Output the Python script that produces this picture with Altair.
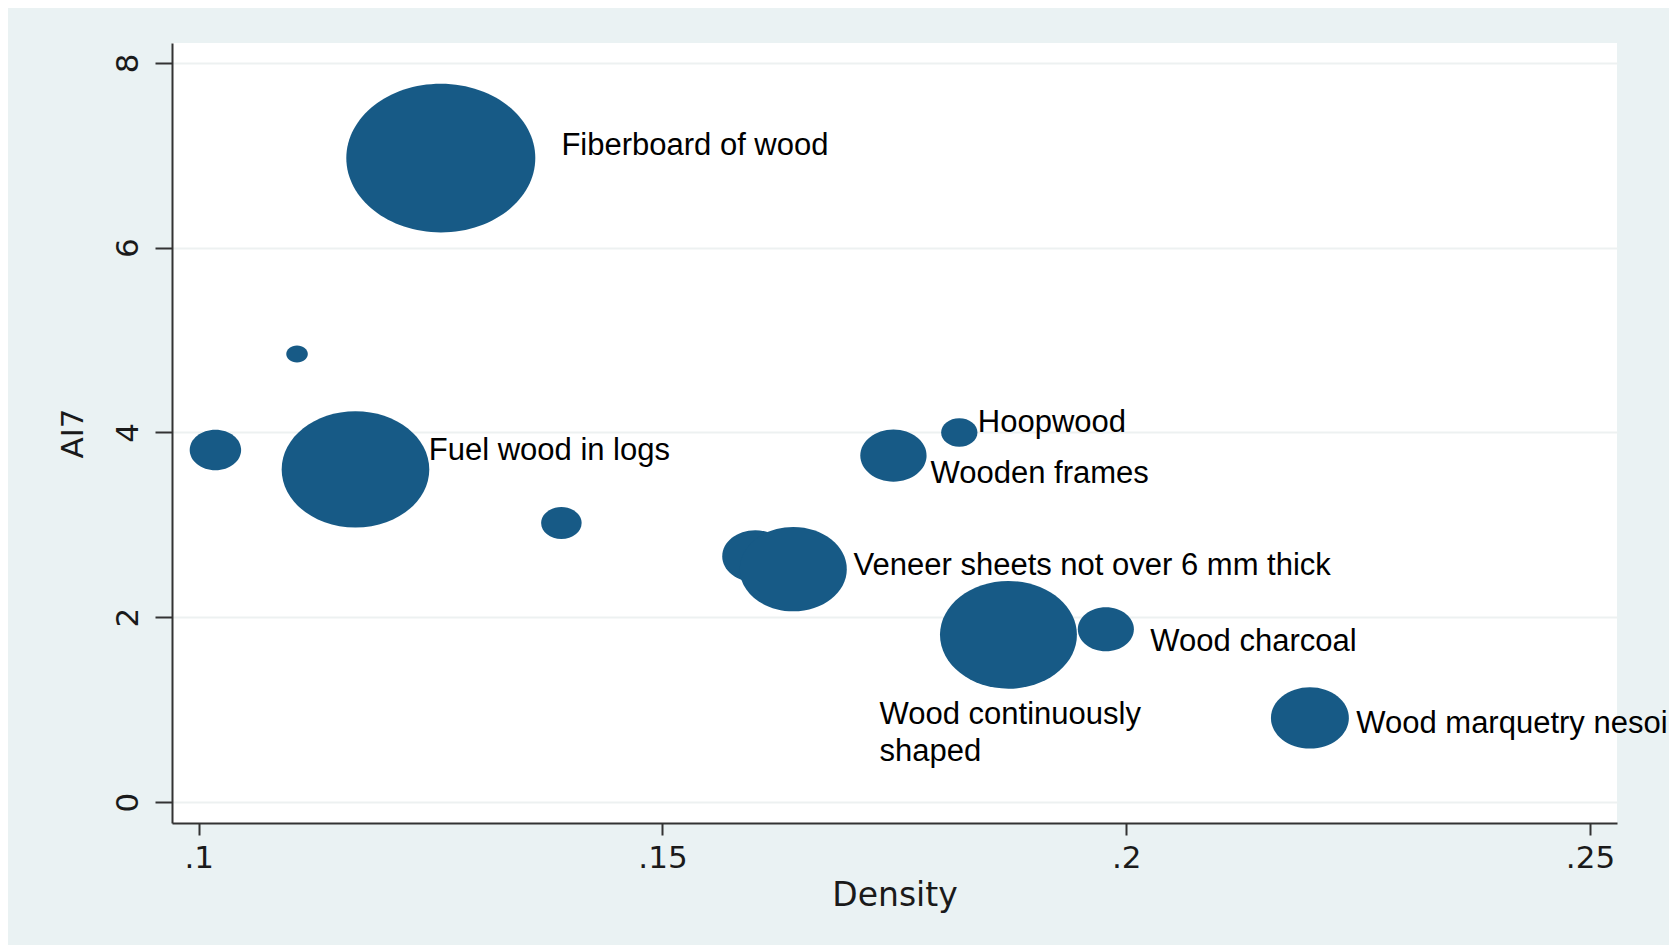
import altair as alt
import pandas as pd

# ---- bubble data ----
bubble_id = ["Fiberboard of wood", "b2", "b3", "Fuel wood in logs", "b5",
             "b6a", "Veneer sheets not over 6 mm thick", "Wooden frames",
             "Hoopwood", "Wood continuously shaped", "Wood charcoal",
             "Wood marquetry nesoi"]
density = [0.1261, 0.1106, 0.1018, 0.1169, 0.1391,
           0.1600, 0.1641, 0.1749, 0.1820, 0.1873, 0.1978, 0.2198]
ai7 = [6.97, 4.85, 3.81, 3.60, 3.02,
       2.66, 2.52, 3.75, 4.00, 1.81, 1.87, 0.91]
weight = [100.0, 1.3, 7.4, 61.0, 4.6,
          12.2, 32.1, 12.3, 3.7, 52.5, 8.8, 17.0]

# ---- bubble labels (text and anchor in data units) ----
label_text = ["Fiberboard of wood", "Fuel wood in logs", "Hoopwood",
              "Wooden frames", "Veneer sheets not over 6 mm thick",
              "Wood charcoal", "Wood continuously", "shaped",
              "Wood marquetry nesoi"]
label_x = [0.1391, 0.1248, 0.1840, 0.1789, 0.1706, 0.2026, 0.1734, 0.1734, 0.2248]
label_y = [7.00, 3.70, 4.01, 3.455, 2.46, 1.636, 0.85, 0.445, 0.746]

# ---- axes ----
x_ticks = [0.1, 0.15, 0.2, 0.25]
x_tick_labels = [".1", ".15", ".2", ".25"]
y_ticks = [0, 2, 4, 6, 8]
x_domain = [0.09712, 0.25291]
y_domain = [-0.227, 8.216]

bubbles = pd.DataFrame({"id": bubble_id, "Density": density, "AI7": ai7, "weight": weight})
labels = pd.DataFrame({"text": label_text, "lx": label_x, "ly": label_y})

label_expr = " : ".join(
    f"abs(datum.value - {v}) < 1e-6 ? '{t}'" for v, t in zip(x_ticks, x_tick_labels)
) + " : ''"

# ellipse-shaped symbol (Stata graph was stretched horizontally)
r = 0.787
k = 0.5523
ellipse = (f"M1,0C1,{k*r:.4f},{k:.4f},{r},0,{r}C{-k:.4f},{r},-1,{k*r:.4f},-1,0"
           f"C-1,{-k*r:.4f},{-k:.4f},{-r},0,{-r}C{k:.4f},{-r},1,{-k*r:.4f},1,0Z")

x_enc = alt.X("Density:Q",
              scale=alt.Scale(domain=x_domain, nice=False, zero=False),
              axis=alt.Axis(values=x_ticks, labelExpr=label_expr, title="Density",
                            grid=False, tickSize=12, labelPadding=8,
                            labelBaseline="top", labelAlign="center",
                            labelFont="DejaVu Sans", labelFontSize=31,
                            labelColor="#1a1a1a",
                            titleFont="DejaVu Sans", titleFontSize=33,
                            titleFontWeight="normal", titleColor="#1a1a1a",
                            titleBaseline="alphabetic", titleAlign="center",
                            titleX=722.5, titleY=82,
                            domainColor="#333333", domainWidth=2,
                            tickColor="#333333", tickWidth=2))
y_enc = alt.Y("AI7:Q",
              scale=alt.Scale(domain=y_domain, nice=False, zero=False),
              axis=alt.Axis(values=y_ticks, format="d", title="AI7",
                            grid=True, gridColor="#edf1f1", gridWidth=2,
                            tickSize=17, labelPadding=18, labelAngle=270,
                            labelAlign="center", labelBaseline="alphabetic",
                            labelFont="DejaVu Sans", labelFontSize=31,
                            labelColor="#1a1a1a",
                            titleFont="DejaVu Sans", titleFontSize=31,
                            titleFontWeight="normal", titleColor="#1a1a1a",
                            titleAngle=270, titleBaseline="alphabetic",
                            titleAlign="center", titleX=-90, titleY=390,
                            domainColor="#333333", domainWidth=2,
                            tickColor="#333333", tickWidth=2))

points = alt.Chart(bubbles).mark_point(
    shape=ellipse, filled=True, opacity=1, color="#175a86", strokeWidth=0
).encode(
    x=x_enc,
    y=y_enc,
    size=alt.Size("weight:Q", scale=alt.Scale(domain=[0, 100], range=[0, 35721]), legend=None),
)

text = alt.Chart(labels).mark_text(
    align="left", baseline="alphabetic", font="Liberation Sans",
    fontSize=31, color="black"
).encode(
    x=alt.X("lx:Q", scale=alt.Scale(domain=x_domain, nice=False, zero=False)),
    y=alt.Y("ly:Q", scale=alt.Scale(domain=y_domain, nice=False, zero=False)),
    text="text:N",
)

chart = alt.layer(points, text).properties(
    width=1445, height=780,
    autosize=alt.AutoSizeParams(type="none"),
    padding={"left": 164, "top": 35, "right": 52, "bottom": 122},
    background="#eaf2f3",
).configure_view(fill="white", stroke=None)

chart.save("out.html", embed_options={"renderer": "svg", "actions": False})
